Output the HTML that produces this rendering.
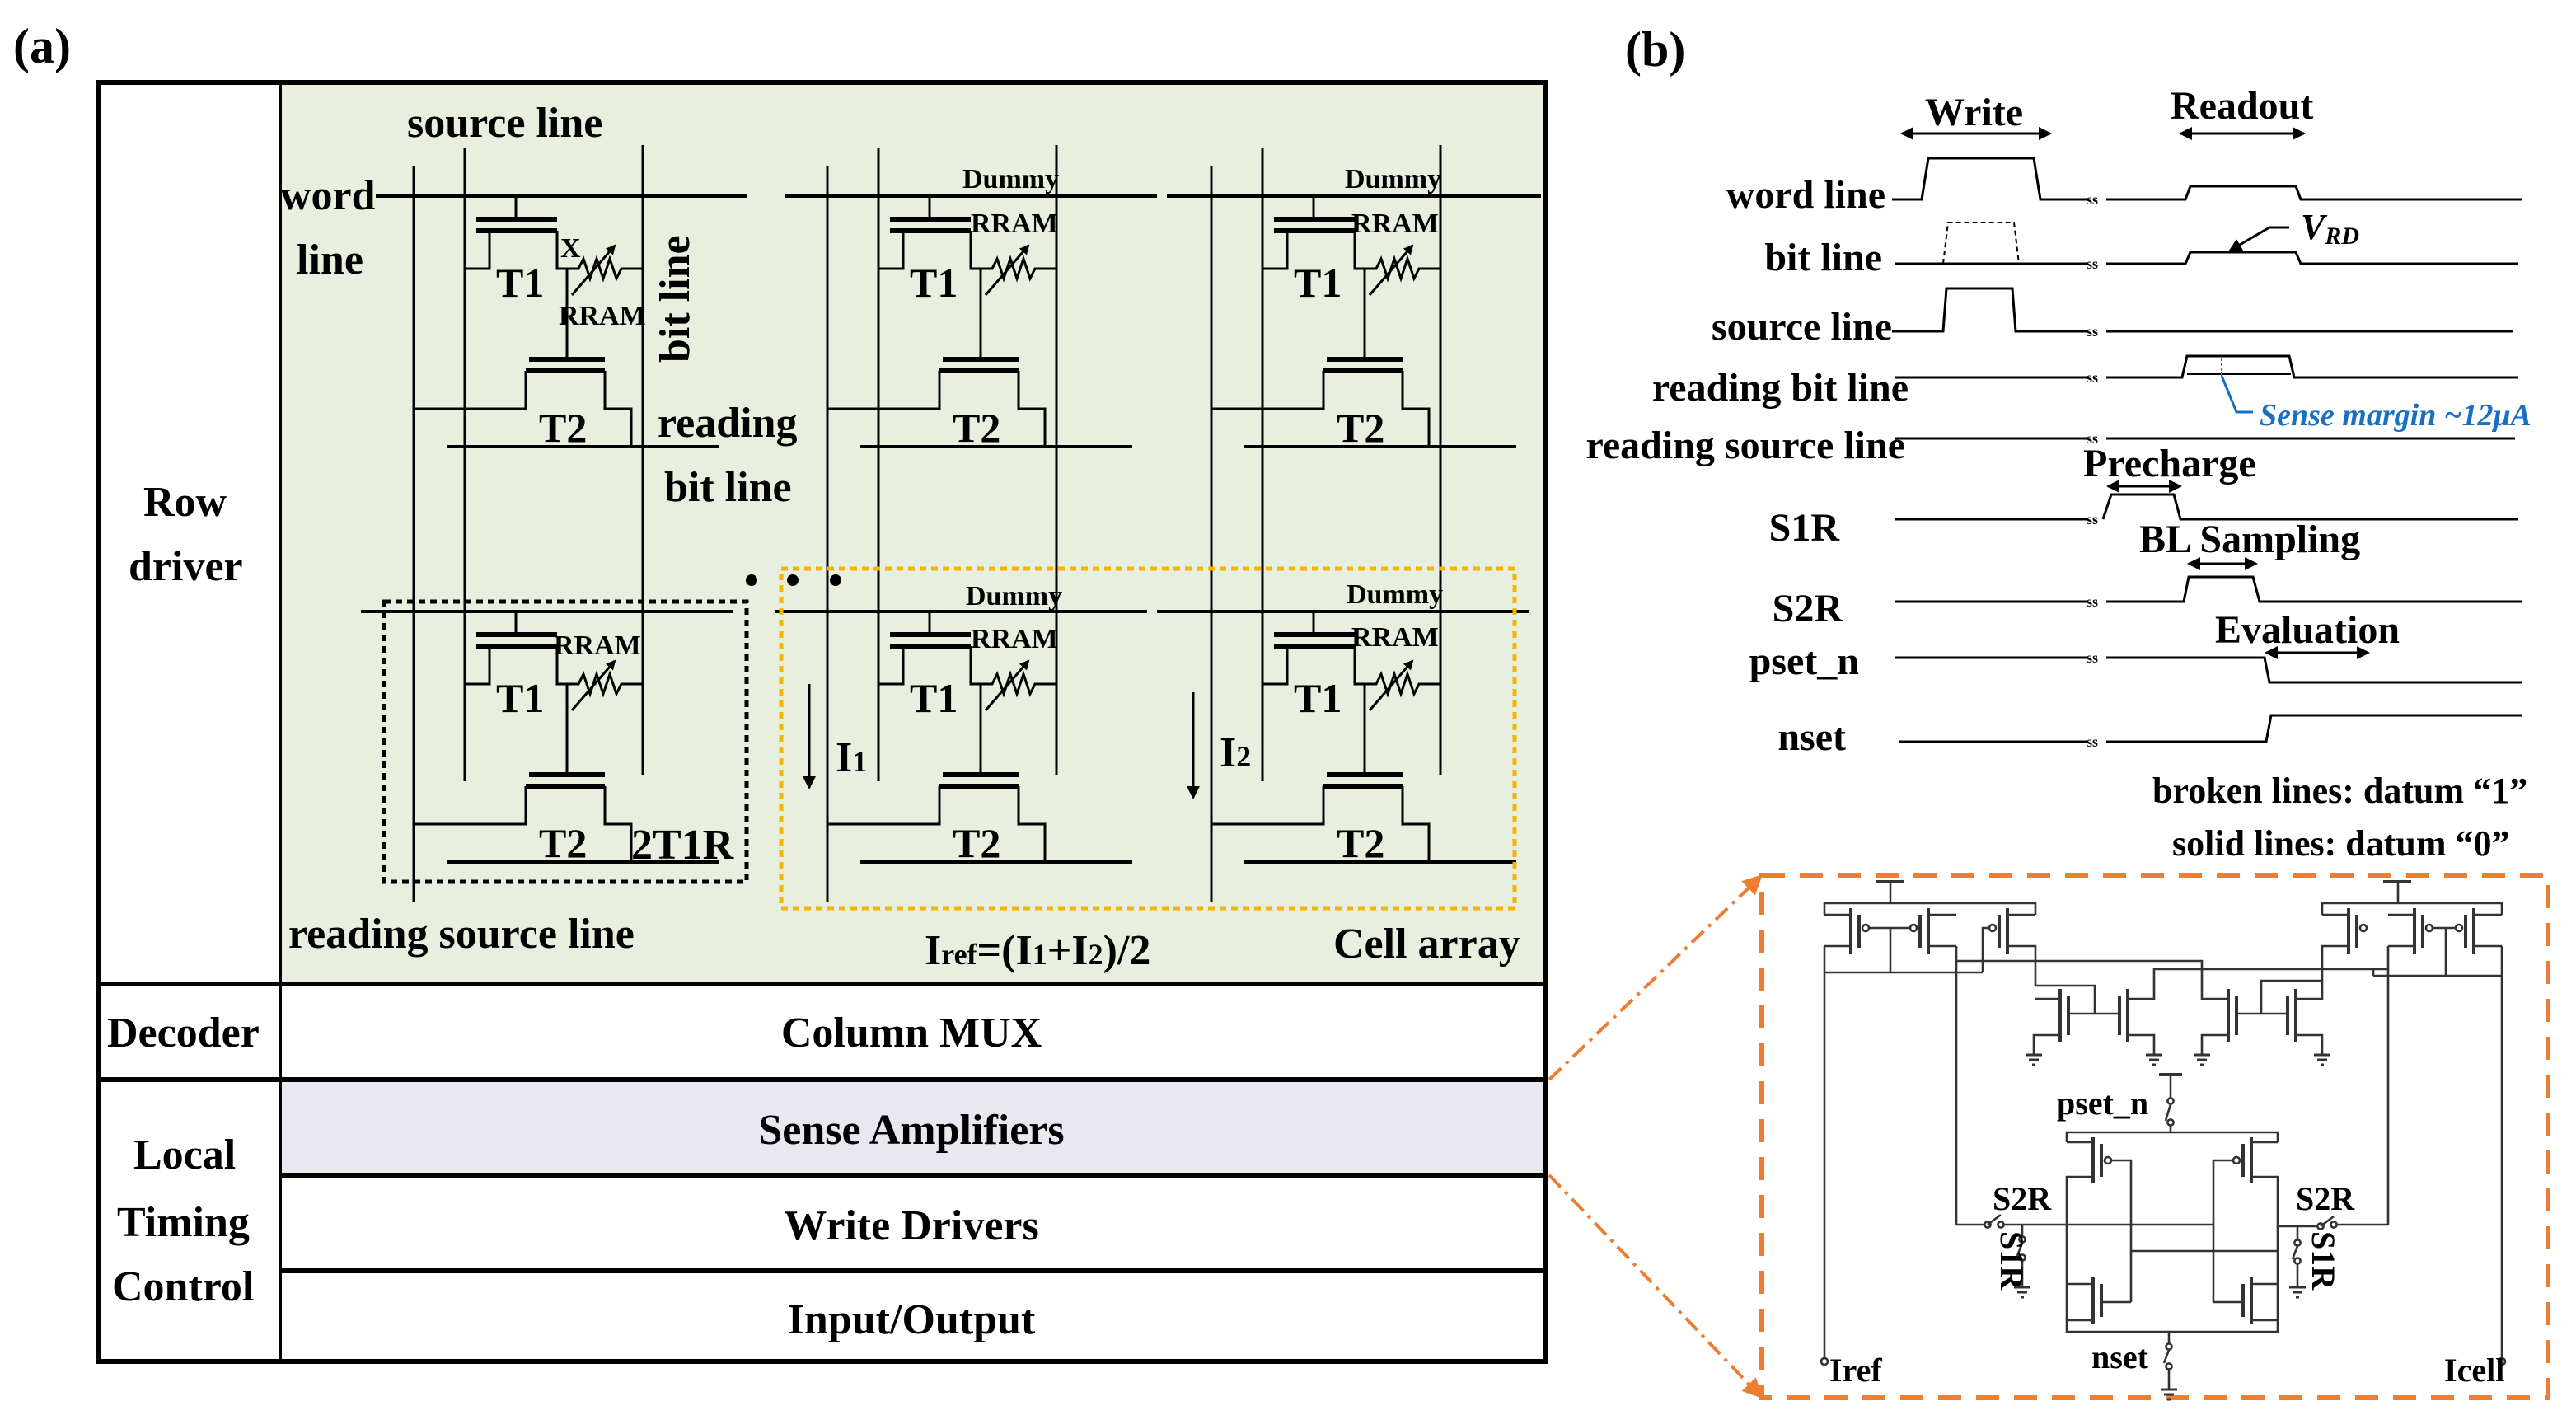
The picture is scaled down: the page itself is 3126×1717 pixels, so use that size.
<!DOCTYPE html>
<html><head><meta charset="utf-8"><style>
html,body{margin:0;padding:0;background:#fff}
svg{display:block}
text{font-family:"Liberation Serif",serif;font-weight:bold;fill:#000}
</style></head><body>
<svg width="3126" height="1717" viewBox="0 0 1563 858.5" xmlns="http://www.w3.org/2000/svg" font-family="Liberation Serif, serif">
<defs>
<marker id="ah" markerWidth="8" markerHeight="8" refX="7" refY="4" orient="auto" markerUnits="userSpaceOnUse"><path d="M0,0 L8,4 L0,8 Z" fill="#000"/></marker>
<marker id="ahs" markerWidth="6" markerHeight="6" refX="5" refY="3" orient="auto" markerUnits="userSpaceOnUse"><path d="M0,0 L6,3 L0,6 Z" fill="#000"/></marker>
<marker id="aho" markerWidth="12" markerHeight="12" refX="10" refY="6" orient="auto" markerUnits="userSpaceOnUse"><path d="M0,0 L12,6 L0,12 Z" fill="#ed7d31"/></marker>
<g id="cell" fill="none" stroke="#000" stroke-width="1.5">
<line x1="62" y1="0" x2="62" y2="13"/>
<line x1="38" y1="14" x2="87" y2="14" stroke-width="3"/>
<line x1="38" y1="21" x2="87" y2="21" stroke-width="3"/>
<polyline points="46,21 46,44 31,44"/>
<polyline points="87,21 87,44 100,44 103,38 107,50 111,38 115,50 119,38 123,50 126,44 139,44"/>
<line x1="96" y1="60" x2="122" y2="30" marker-end="url(#ahs)"/>
<line x1="93" y1="44" x2="93" y2="98"/>
<line x1="70" y1="99" x2="116" y2="99" stroke-width="3"/>
<line x1="68" y1="106" x2="116" y2="106" stroke-width="3"/>
<polyline points="68,106 68,129 0,129"/>
<polyline points="116,106 116,129 132,129 132,152"/>
<line x1="20" y1="152" x2="185" y2="152" stroke-width="2"/>
</g>
</defs>

<!-- Panel (a) -->
<text x="8" y="38" font-size="30">(a)</text>
<rect x="171" y="51" width="766" height="546" fill="#e9efdf"/>
<rect x="171" y="656" width="766" height="57" fill="#e9e7f0"/>
<g stroke="#000" stroke-width="3" fill="none">
<rect x="60" y="50" width="878" height="776"/>
<line x1="60" y1="597" x2="938" y2="597"/>
<line x1="60" y1="655" x2="938" y2="655"/>
<line x1="170" y1="713" x2="938" y2="713"/>
<line x1="170" y1="771" x2="938" y2="771"/>
</g>
<line x1="170" y1="50" x2="170" y2="826" stroke="#000" stroke-width="2"/>

<g stroke="#000" stroke-width="1.5">
<line x1="251" y1="101" x2="251" y2="547"/><line x1="282" y1="90" x2="282" y2="474"/><line x1="390" y1="88" x2="390" y2="470"/>
<line x1="502" y1="101" x2="502" y2="547"/><line x1="533" y1="90" x2="533" y2="474"/><line x1="641" y1="88" x2="641" y2="470"/>
<line x1="735" y1="101" x2="735" y2="547"/><line x1="766" y1="90" x2="766" y2="474"/><line x1="874" y1="88" x2="874" y2="470"/>
</g>
<g stroke="#000" stroke-width="2">
<line x1="228" y1="119" x2="453" y2="119"/><line x1="476" y1="119" x2="702" y2="119"/><line x1="708" y1="119" x2="935" y2="119"/>
<line x1="219" y1="371" x2="445" y2="371"/><line x1="470" y1="371" x2="696" y2="371"/><line x1="702" y1="371" x2="928" y2="371"/>
</g>
<use href="#cell" transform="translate(251,119)"/>
<use href="#cell" transform="translate(502,119)"/>
<use href="#cell" transform="translate(735,119)"/>
<use href="#cell" transform="translate(251,371)"/>
<use href="#cell" transform="translate(502,371)"/>
<use href="#cell" transform="translate(735,371)"/>

<rect x="233" y="365" width="220" height="170" fill="none" stroke="#000" stroke-width="2.5" stroke-dasharray="4,3"/>
<rect x="474" y="345" width="445" height="206" fill="none" stroke="#f5b400" stroke-width="2.5" stroke-dasharray="4,3"/>
<circle cx="456" cy="352" r="3.5"/><circle cx="481" cy="352" r="3.5"/><circle cx="507" cy="352" r="3.5"/>
<line x1="491" y1="415" x2="491" y2="478" stroke="#000" stroke-width="1.5" marker-end="url(#ah)"/>
<line x1="724" y1="420" x2="724" y2="484" stroke="#000" stroke-width="1.5" marker-end="url(#ah)"/>

<g font-size="26">
<text x="247" y="83">source line</text>
<text x="170" y="127">word</text>
<text x="180" y="166">line</text>
<text x="399" y="265">reading</text>
<text x="403" y="304">bit line</text>
<text x="175" y="575">reading source line</text>
<text x="809" y="581">Cell array</text>
<text x="561" y="585">I<tspan font-size="18">ref</tspan>=(I<tspan font-size="18">1</tspan>+I<tspan font-size="18">2</tspan>)/2</text>
<text x="507" y="468">I<tspan font-size="18">1</tspan></text>
<text x="740" y="465">I<tspan font-size="18">2</tspan></text>
<text x="383" y="521">2T1R</text>
<text x="87" y="313">Row</text>
<text x="78" y="352">driver</text>
<text x="65" y="635">Decoder</text>
<text x="81" y="709">Local</text>
<text x="71" y="750">Timing</text>
<text x="68" y="789">Control</text>
<text x="553" y="635" text-anchor="middle">Column MUX</text>
<text x="553" y="694" text-anchor="middle">Sense Amplifiers</text>
<text x="553" y="752" text-anchor="middle">Write Drivers</text>
<text x="553" y="809" text-anchor="middle">Input/Output</text>
</g>
<text transform="translate(418,220) rotate(-90)" font-size="26">bit line</text>
<g font-size="25">
<text x="301" y="180">T1</text><text x="552" y="180">T1</text><text x="785" y="180">T1</text>
<text x="301" y="432">T1</text><text x="552" y="432">T1</text><text x="785" y="432">T1</text>
<text x="327" y="268">T2</text><text x="578" y="268">T2</text><text x="811" y="268">T2</text>
<text x="327" y="520">T2</text><text x="578" y="520">T2</text><text x="811" y="520">T2</text>
</g>
<g font-size="17">
<text x="340" y="156">X</text>
<text x="339" y="197">RRAM</text>
<text x="589" y="141">RRAM</text><text x="820" y="141">RRAM</text>
<text x="336" y="397">RRAM</text><text x="589" y="393">RRAM</text><text x="820" y="392">RRAM</text>
<text x="584" y="114">Dummy</text><text x="816" y="114">Dummy</text>
<text x="586" y="367">Dummy</text><text x="817" y="366">Dummy</text>
</g>

<!-- Panel (b) timing -->
<text x="986" y="40" font-size="30">(b)</text>
<g font-size="24">
<text x="1168" y="76">Write</text>
<text x="1317" y="72">Readout</text>
<text x="1144" y="126" text-anchor="end">word line</text>
<text x="1142" y="164" text-anchor="end">bit line</text>
<text x="1148" y="206" text-anchor="end">source line</text>
<text x="1158" y="243" text-anchor="end">reading bit line</text>
<text x="1156" y="278" text-anchor="end">reading source line</text>
<text x="1264" y="289">Precharge</text>
<text x="1116" y="328" text-anchor="end">S1R</text>
<text x="1298" y="335">BL Sampling</text>
<text x="1118" y="377" text-anchor="end">S2R</text>
<text x="1344" y="390">Evaluation</text>
<text x="1128" y="409" text-anchor="end">pset_n</text>
<text x="1120" y="455" text-anchor="end">nset</text>
<text x="1306" y="487" font-size="22">broken lines: datum  “1”</text>
<text x="1318" y="519" font-size="22">solid lines: datum  “0”</text>
</g>
<text x="1396" y="145" font-size="22" font-style="italic">V<tspan font-size="15" dy="3">RD</tspan></text>
<text x="1371" y="258" font-size="19" font-style="italic" style="fill:#1a6fc0">Sense margin ~12μA</text>
<g fill="none" stroke="#000" stroke-width="1.5">
<line x1="1160" y1="81" x2="1244" y2="81" marker-end="url(#ah)"/><line x1="1238" y1="81" x2="1154" y2="81" marker-end="url(#ah)"/>
<line x1="1330" y1="81" x2="1398" y2="81" marker-end="url(#ah)"/><line x1="1392" y1="81" x2="1323" y2="81" marker-end="url(#ah)"/>
<line x1="1284" y1="295" x2="1323" y2="295" marker-end="url(#ah)"/><line x1="1318" y1="295" x2="1279" y2="295" marker-end="url(#ah)"/>
<line x1="1333" y1="342" x2="1369" y2="342" marker-end="url(#ah)"/><line x1="1364" y1="342" x2="1328" y2="342" marker-end="url(#ah)"/>
<line x1="1380" y1="396" x2="1437" y2="396" marker-end="url(#ah)"/><line x1="1432" y1="396" x2="1375" y2="396" marker-end="url(#ah)"/>
<polyline points="1389,138 1377,138 1353,152" marker-end="url(#ah)"/>
<polyline points="1148,121 1166,121 1170,96 1234,96 1238,121 1266,121"/>
<polyline points="1278,121 1326,121 1329,113 1393,113 1396,121 1530,121"/>
<polyline points="1150,160 1266,160"/><polyline points="1278,160 1326,160 1329,153 1393,153 1396,160 1528,160"/>
<polyline points="1179,160 1182,135 1222,135 1225,160" stroke-dasharray="3,2" stroke-width="1"/>
<polyline points="1148,201 1179,201 1181,175 1221,175 1223,201 1266,201"/>
<line x1="1278" y1="201" x2="1525" y2="201"/>
<line x1="1150" y1="229" x2="1266" y2="229"/>
<polyline points="1278,229 1324,229 1327,216 1389,216 1392,229 1528,229"/>
<line x1="1327" y1="227" x2="1390" y2="227" stroke-width="1"/>
<line x1="1150" y1="266" x2="1266" y2="266"/><line x1="1278" y1="266" x2="1526" y2="266"/>
<line x1="1150" y1="315" x2="1266" y2="315"/><polyline points="1276,315 1281,300 1319,300 1323,315 1528,315"/>
<line x1="1150" y1="365" x2="1266" y2="365"/><polyline points="1278,365 1325,365 1328,350 1367,350 1371,365 1530,365"/>
<line x1="1150" y1="399" x2="1266" y2="399"/><polyline points="1278,399 1374,399 1377,414 1530,414"/>
<line x1="1152" y1="450" x2="1266" y2="450"/><polyline points="1278,450 1375,450 1378,434 1530,434"/>
</g>
<polyline points="1348,228 1357,250 1367,250" fill="none" stroke="#1a6fc0" stroke-width="1.5"/>
<line x1="1348" y1="217" x2="1348" y2="228" stroke="#e020c0" stroke-width="1" stroke-dasharray="2,1"/>
<g font-size="9" style="font-weight:normal">
<text x="1266" y="124">ss</text><text x="1266" y="163">ss</text><text x="1266" y="204">ss</text><text x="1266" y="232">ss</text><text x="1266" y="269">ss</text><text x="1266" y="318">ss</text><text x="1266" y="368">ss</text><text x="1266" y="402">ss</text><text x="1266" y="453">ss</text>
</g>

<rect x="1069" y="531" width="477" height="317" fill="none" stroke="#ed7d31" stroke-width="3" stroke-dasharray="14,9"/>
<line x1="940" y1="655" x2="1068" y2="532" stroke="#ed7d31" stroke-width="2" stroke-dasharray="10,4,2,4" marker-end="url(#aho)"/>
<line x1="940" y1="713" x2="1068" y2="847" stroke="#ed7d31" stroke-width="2" stroke-dasharray="10,4,2,4" marker-end="url(#aho)"/>

<g fill="none" stroke="#333" stroke-width="1.3">
<line x1="1138" y1="535" x2="1155" y2="535" stroke-width="2"/><line x1="1147" y1="535" x2="1147" y2="548"/>
<polyline points="1107,555 1107,548 1235,548 1235,555"/>
<line x1="1107" y1="555" x2="1123" y2="555"/><line x1="1107" y1="574" x2="1123" y2="574"/>
<line x1="1123" y1="551" x2="1123" y2="579" stroke-width="2"/><line x1="1128" y1="555" x2="1128" y2="575" stroke-width="2"/>
<line x1="1170" y1="551" x2="1170" y2="579" stroke-width="2"/><line x1="1165" y1="555" x2="1165" y2="575" stroke-width="2"/>
<line x1="1170" y1="555" x2="1187" y2="555"/><line x1="1170" y1="574" x2="1187" y2="574"/>
<line x1="1218" y1="551" x2="1218" y2="579" stroke-width="2"/><line x1="1213" y1="555" x2="1213" y2="575" stroke-width="2"/>
<line x1="1218" y1="555" x2="1235" y2="555"/><polyline points="1218,574 1235,574 1235,598"/>
<circle cx="1132" cy="563" r="2"/><circle cx="1161" cy="563" r="2"/><circle cx="1209" cy="563" r="2"/>
<line x1="1134" y1="563" x2="1159" y2="563"/><line x1="1147" y1="563" x2="1147" y2="590"/>
<polyline points="1207,563 1203,563 1203,590"/>
<polyline points="1107,574 1107,824"/><line x1="1107" y1="590" x2="1203" y2="590"/>
<polyline points="1187,574 1187,743"/>
<line x1="1446" y1="535" x2="1463" y2="535" stroke-width="2"/><line x1="1455" y1="535" x2="1455" y2="548"/>
<polyline points="1409,555 1409,548 1518,548 1518,555"/>
<line x1="1409" y1="555" x2="1425" y2="555"/><polyline points="1425,574 1409,574 1409,598"/>
<line x1="1425" y1="551" x2="1425" y2="579" stroke-width="2"/><line x1="1430" y1="555" x2="1430" y2="575" stroke-width="2"/>
<circle cx="1434" cy="563" r="2"/>
<line x1="1465" y1="551" x2="1465" y2="579" stroke-width="2"/><line x1="1470" y1="555" x2="1470" y2="575" stroke-width="2"/>
<line x1="1501" y1="551" x2="1501" y2="579" stroke-width="2"/><line x1="1496" y1="555" x2="1496" y2="575" stroke-width="2"/>
<line x1="1449" y1="555" x2="1465" y2="555"/><line x1="1449" y1="574" x2="1465" y2="574"/>
<line x1="1501" y1="555" x2="1518" y2="555"/><line x1="1501" y1="574" x2="1518" y2="574"/>
<circle cx="1474" cy="563" r="2"/><circle cx="1492" cy="563" r="2"/>
<line x1="1476" y1="563" x2="1490" y2="563"/><line x1="1484" y1="563" x2="1484" y2="592"/>
<polyline points="1518,574 1518,824"/><line x1="1440" y1="592" x2="1518" y2="592"/>
<polyline points="1449,574 1449,743"/>
<polyline points="1187,583 1336,583 1336,603"/>
<polyline points="1307,603 1307,588 1449,588"/>
<line x1="1440" y1="588" x2="1440" y2="592"/>
<polyline points="1235,598 1271,598 1271,615"/>
<polyline points="1235,606 1250,606"/><line x1="1250" y1="600" x2="1250" y2="632" stroke-width="2"/><line x1="1255" y1="604" x2="1255" y2="628" stroke-width="2"/>
<polyline points="1250,628 1234,628 1234,640"/>
<line x1="1255" y1="615" x2="1286" y2="615"/>
<line x1="1286" y1="604" x2="1286" y2="628" stroke-width="2"/><line x1="1291" y1="600" x2="1291" y2="632" stroke-width="2"/>
<polyline points="1291,606 1307,606 1307,603"/><polyline points="1291,628 1307,628 1307,640"/>
<polyline points="1336,603 1336,606 1352,606"/><line x1="1352" y1="600" x2="1352" y2="632" stroke-width="2"/><line x1="1357" y1="604" x2="1357" y2="628" stroke-width="2"/>
<polyline points="1352,628 1336,628 1336,640"/>
<line x1="1357" y1="615" x2="1388" y2="615"/><polyline points="1372,615 1372,595 1409,595"/>
<line x1="1388" y1="604" x2="1388" y2="628" stroke-width="2"/><line x1="1393" y1="600" x2="1393" y2="632" stroke-width="2"/>
<polyline points="1393,606 1409,606 1409,598"/><polyline points="1393,628 1409,628 1409,640"/>
<line x1="1310" y1="652" x2="1324" y2="652" stroke-width="2"/><polyline points="1317,652 1317,666"/>
<circle cx="1317" cy="668" r="1.8"/><circle cx="1317" cy="681" r="1.8"/>
<line x1="1317" y1="670" x2="1314" y2="680"/><polyline points="1317,683 1317,687"/>
<polyline points="1254,693 1254,687 1382,687 1382,693"/>
<line x1="1254" y1="693" x2="1270" y2="693"/><line x1="1270" y1="690" x2="1270" y2="718" stroke-width="2"/><line x1="1275" y1="694" x2="1275" y2="714" stroke-width="2"/>
<polyline points="1270,714 1254,714 1254,801"/>
<circle cx="1279" cy="704" r="2"/><polyline points="1281,704 1293,704 1293,790"/>
<line x1="1366" y1="693" x2="1382" y2="693"/><line x1="1366" y1="690" x2="1366" y2="718" stroke-width="2"/><line x1="1361" y1="694" x2="1361" y2="714" stroke-width="2"/>
<polyline points="1366,714 1382,714 1382,801"/>
<circle cx="1357" cy="704" r="2"/><polyline points="1355,704 1343,704 1343,790"/>
<line x1="1187" y1="743" x2="1204" y2="743"/><line x1="1216" y1="743" x2="1343" y2="743"/>
<circle cx="1206" cy="743" r="1.8"/><circle cx="1214" cy="743" r="1.8"/>
<line x1="1293" y1="759" x2="1382" y2="759"/>
<line x1="1382" y1="744" x2="1406" y2="744"/><line x1="1418" y1="743" x2="1449" y2="743"/>
<circle cx="1408" cy="744" r="1.8"/><circle cx="1416" cy="743" r="1.8"/>
<line x1="1270" y1="775" x2="1270" y2="803" stroke-width="2"/><line x1="1275" y1="779" x2="1275" y2="799" stroke-width="2"/>
<polyline points="1270,779 1254,779"/><polyline points="1270,801 1254,801 1254,808 1382,808 1382,801"/>
<line x1="1275" y1="790" x2="1293" y2="790"/>
<line x1="1366" y1="775" x2="1366" y2="803" stroke-width="2"/><line x1="1361" y1="779" x2="1361" y2="799" stroke-width="2"/>
<polyline points="1366,779 1382,779"/><line x1="1366" y1="801" x2="1382" y2="801"/>
<line x1="1343" y1="790" x2="1361" y2="790"/>
<polyline points="1227,743 1227,750"/><line x1="1227" y1="754" x2="1224" y2="762"/><polyline points="1227,764 1227,781"/>
<circle cx="1227" cy="752" r="1.8"/><circle cx="1227" cy="763" r="1.8"/>
<polyline points="1394,744 1394,752"/><line x1="1394" y1="756" x2="1391" y2="764"/><polyline points="1394,766 1394,781"/>
<circle cx="1394" cy="754" r="1.8"/><circle cx="1394" cy="765" r="1.8"/>
<line x1="1206" y1="743" x2="1214" y2="737"/><line x1="1408" y1="744" x2="1416" y2="738"/>
<polyline points="1316,808 1316,815"/><line x1="1316" y1="819" x2="1313" y2="827"/><polyline points="1316,830 1316,843"/>
<circle cx="1316" cy="817" r="1.8"/><circle cx="1316" cy="829" r="1.8"/>
<circle cx="1107" cy="826" r="2"/><circle cx="1518" cy="826" r="2"/>
</g>
<g stroke="#333" stroke-width="1.5">
<line x1="1229" y1="640" x2="1239" y2="640"/><line x1="1231" y1="643" x2="1237" y2="643"/><line x1="1233" y1="646" x2="1235" y2="646"/>
<line x1="1302" y1="640" x2="1312" y2="640"/><line x1="1304" y1="643" x2="1310" y2="643"/><line x1="1306" y1="646" x2="1308" y2="646"/>
<line x1="1331" y1="640" x2="1341" y2="640"/><line x1="1333" y1="643" x2="1339" y2="643"/><line x1="1335" y1="646" x2="1337" y2="646"/>
<line x1="1404" y1="640" x2="1414" y2="640"/><line x1="1406" y1="643" x2="1412" y2="643"/><line x1="1408" y1="646" x2="1410" y2="646"/>
<line x1="1222" y1="781" x2="1232" y2="781"/><line x1="1224" y1="784" x2="1230" y2="784"/><line x1="1226" y1="787" x2="1228" y2="787"/>
<line x1="1389" y1="781" x2="1399" y2="781"/><line x1="1391" y1="784" x2="1397" y2="784"/><line x1="1393" y1="787" x2="1395" y2="787"/>
<line x1="1311" y1="843" x2="1321" y2="843"/><line x1="1313" y1="846" x2="1319" y2="846"/><line x1="1315" y1="849" x2="1317" y2="849"/>
</g>
<g font-size="20">
<text x="1248" y="676">pset_n</text>
<text x="1209" y="734">S2R</text>
<text x="1393" y="734">S2R</text>
<text x="1269" y="830">nset</text>
<text x="1110" y="838">Iref</text>
<text x="1483" y="838">Icell</text>
</g>
<text transform="translate(1214,747) rotate(90)" font-size="20">S1R</text>
<text transform="translate(1403,747) rotate(90)" font-size="20">S1R</text>
</svg>
</body></html>
